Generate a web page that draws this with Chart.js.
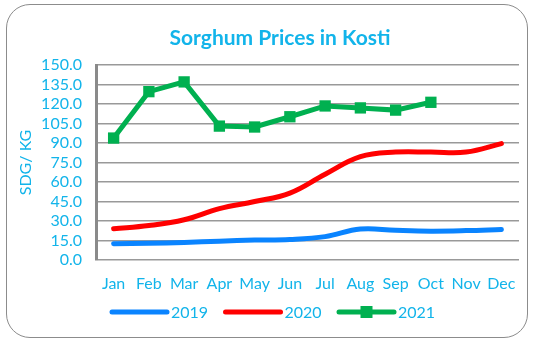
<!DOCTYPE html>
<html>
<head>
<meta charset="utf-8">
<script src="https://cdn.jsdelivr.net/npm/chart.js@4/dist/chart.umd.min.js"></script>
<style>
  html, body { margin: 0; padding: 0; background: #fff; }
  #wrap { position: relative; width: 533px; height: 339px; overflow: hidden; }
  #frame {
    position: absolute; left: 6px; top: 4px; width: 522px; height: 334px;
    border: 1.5px solid #8c8c8c; border-radius: 24px; box-sizing: border-box;
  }
  canvas { position: absolute; left: 0; top: 0; }
</style>
</head>
<body>
<div id="wrap">
  <div id="frame"></div>
  <canvas id="prices" width="533" height="339"></canvas>
</div>
<script>
// month labels and yearly prices (SDG per kg)
const months = ["Jan", "Feb", "Mar", "Apr", "May", "Jun", "Jul", "Aug", "Sep", "Oct", "Nov", "Dec"];
const prices2019 = [12.5, 12.8, 13.5, 14.5, 15.3, 15.8, 18, 23.8, 22.8, 22.2, 22.6, 23.5];
const prices2020 = [24, 26.5, 31, 39.5, 45, 51.5, 66, 79.5, 83, 83, 83, 89.5];
const prices2021 = [93.8, 129.5, 137, 103, 102.3, 110.2, 118.5, 117, 115.3, 121.3, null, null];

const blue = "#0a84ff";
const red = "#ff0000";
const green = "#00b050";
const txt = "#12b4ea";

// title and custom legend drawn on the canvas
const extras = {
  id: "extras",
  afterDraw(chart) {
    const ctx = chart.ctx;
    ctx.save();
    ctx.fillStyle = txt;
    ctx.font = "bold 21px Lato";
    ctx.textAlign = "center";
    ctx.textBaseline = "middle";
    ctx.fillText("Sorghum Prices in Kosti", 280, 38);

    const y = 312;
    let x = 112;
    ctx.font = "16px Lato";
    ctx.textAlign = "left";
    chart.data.datasets.forEach(ds => {
      ctx.strokeStyle = ds.borderColor;
      ctx.lineWidth = 5;
      ctx.lineCap = "round";
      ctx.beginPath();
      ctx.moveTo(x, y);
      ctx.lineTo(x + 55, y);
      ctx.stroke();
      if (ds.pointRadius > 0) {
        ctx.fillStyle = ds.borderColor;
        ctx.fillRect(x + 27.5 - 6, y - 6, 12, 12);
      }
      ctx.fillStyle = txt;
      ctx.fillText(ds.label, x + 59, y + 1);
      x += 113.5;
    });
    ctx.restore();
  }
};

new Chart(document.getElementById("prices"), {
  type: "line",
  data: {
    labels: months,
    datasets: [
      { label: "2019", data: prices2019, borderColor: blue, backgroundColor: blue,
        borderWidth: 5, tension: 0.4, pointRadius: 0, borderCapStyle: "round" },
      { label: "2020", data: prices2020, borderColor: red, backgroundColor: red,
        borderWidth: 5, tension: 0.4, pointRadius: 0, borderCapStyle: "round" },
      { label: "2021", data: prices2021, borderColor: green, backgroundColor: green,
        borderWidth: 5, tension: 0, pointStyle: "rect", pointRadius: 8,
        pointBorderWidth: 0, spanGaps: false }
    ]
  },
  options: {
    responsive: false,
    animation: false,
    events: [],
    layout: { padding: { left: 16, right: 14, top: 65, bottom: 40 } },
    plugins: { legend: { display: false }, title: { display: false }, tooltip: { enabled: false } },
    scales: {
      x: {
        offset: true,
        grid: { display: false, drawTicks: false },
        border: { display: false },
        ticks: { color: txt, font: { family: "Lato", size: 16 }, padding: 14, maxRotation: 0, autoSkip: false },
        afterFit: s => { s.height = 39; }
      },
      y: {
        min: 0, max: 150,
        ticks: { stepSize: 15, autoSkip: false, color: txt, font: { family: "Lato", size: 16 }, padding: 14,
          callback: v => v.toFixed(1) },
        grid: { color: "#999999", lineWidth: 1.5, drawTicks: false },
        border: { display: true, color: "#8a8a8a", width: 3 },
        title: { display: true, text: "SDG/ KG", color: txt, font: { family: "Lato", size: 16 }, padding: 0 },
        afterFit: s => { s.width = 80; }
      }
    }
  },
  plugins: [extras]
});
</script>
</body>
</html>
